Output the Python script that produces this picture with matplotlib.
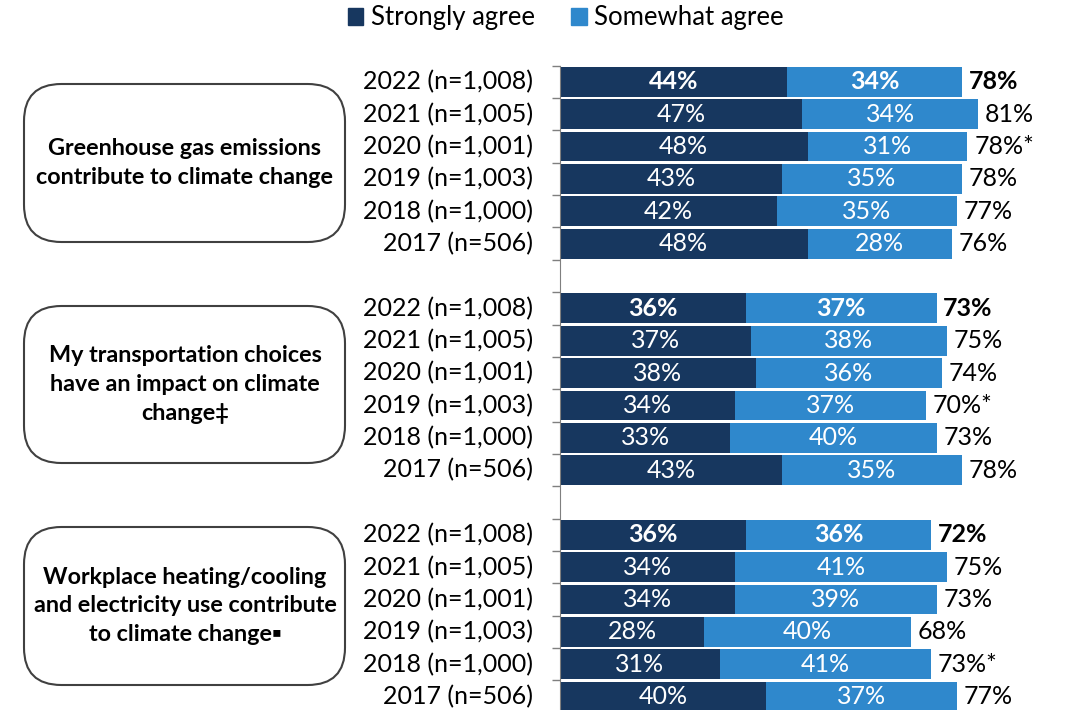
import matplotlib.pyplot as plt
from matplotlib.patches import FancyBboxPatch, Patch

plt.rcParams['font.family'] = ['Lato', 'DejaVu Sans']

years = ['2022 (n=1,008)', '2021 (n=1,005)', '2020 (n=1,001)',
         '2019 (n=1,003)', '2018 (n=1,000)', '2017 (n=506)']
statements = ['Greenhouse gas emissions\ncontribute to climate change',
              'My transportation choices\nhave an impact on climate\nchange\u2021',
              'Workplace heating/cooling\nand electricity use contribute\nto climate change\u25aa']

strong = [[44, 47, 48, 43, 42, 48],
          [36, 37, 38, 34, 33, 43],
          [36, 34, 34, 28, 31, 40]]
somewhat = [[34, 34, 31, 35, 35, 28],
            [37, 38, 36, 37, 40, 35],
            [36, 41, 39, 40, 41, 37]]
totals = [['78%', '81%', '78%*', '78%', '77%', '76%'],
          ['73%', '75%', '74%', '70%*', '73%', '78%'],
          ['72%', '75%', '73%', '68%', '73%*', '77%']]

dark = '#17375F'
light = '#2F88CC'

fig = plt.figure(figsize=(10.66, 7.1), dpi=100)
ax = fig.add_axes([560 / 1066, -0.004, 1 - 560 / 1066, (713 - 65.8) / 710])

for g in range(3):
    for i in range(6):
        y = g * 7 + i
        s = strong[g][i]
        w = somewhat[g][i]
        ax.barh(y, s, height=0.92, color=dark)
        ax.barh(y, w, left=s, height=0.92, color=light)
        wt = 'bold' if i == 0 else 'normal'
        ax.text(s / 2, y, f'{s}%', color='white', ha='center', va='center',
                fontsize=18, fontweight=wt)
        ax.text(s + w / 2, y, f'{w}%', color='white', ha='center', va='center',
                fontsize=18, fontweight=wt)
        ax.text(s + w + 1.3, y, totals[g][i], color='black', ha='left', va='center',
                fontsize=18, fontweight=wt)
        ax.text(-5.2, y, years[i], ha='right', va='center', fontsize=18)

ax.set_xlim(0, 98.1)
ax.set_ylim(19.5, -0.5)
ax.set_yticks([k + 0.5 for k in range(-1, 20)])
ax.set_yticklabels([])
ax.tick_params(axis='y', length=6, width=1, color='#7f7f7f')
ax.set_xticks([])
for sp in ['top', 'right', 'bottom']:
    ax.spines[sp].set_visible(False)
ax.spines['left'].set_color('#7f7f7f')

# statement boxes
box_tops = [84, 306, 527]
box_bottoms = [242, 463, 685]
for g in range(3):
    y0 = 1 - box_bottoms[g] / 710
    h = (box_bottoms[g] - box_tops[g]) / 710
    box = FancyBboxPatch((24 / 1066, y0), (345 - 24) / 1066, h,
                         boxstyle='round,pad=0,rounding_size=0.035',
                         transform=fig.transFigure, facecolor='white',
                         edgecolor='#404040', linewidth=1.5, mutation_aspect=1.5)
    fig.add_artist(box)
    fig.text(185 / 1066, y0 + h / 2, statements[g], ha='center', va='center',
             fontsize=16.8, fontweight='bold', linespacing=1.45)

handles = [Patch(color=dark, label='Strongly agree'),
           Patch(color=light, label='Somewhat agree')]
fig.legend(handles=handles, loc='center', bbox_to_anchor=(566 / 1066, 1 - 18 / 710),
           ncol=2, frameon=False, fontsize=18.5, handlelength=0.6, handleheight=0.6,
           handletextpad=0.3, columnspacing=1.4)

fig.savefig('out.png', dpi=100)
